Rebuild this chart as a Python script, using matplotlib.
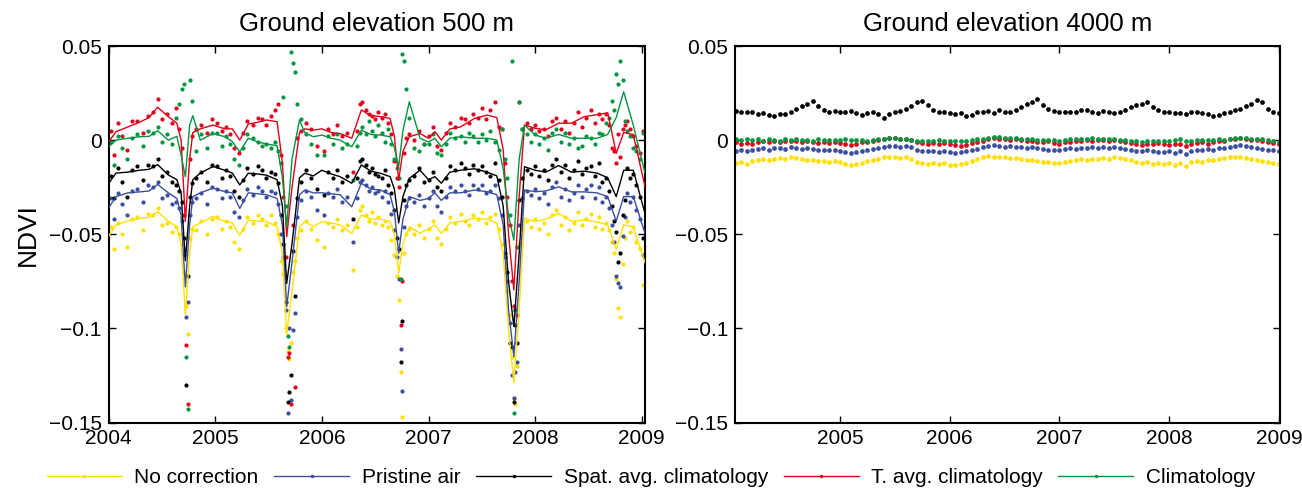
import numpy as np
import matplotlib
matplotlib.use("Agg")
import matplotlib.pyplot as plt
from matplotlib.lines import Line2D

plt.rcParams['font.family'] = ['Liberation Sans', 'DejaVu Sans']

# ---------------- data ----------------
SERIES = ["No correction", "Pristine air", "Spat. avg. climatology", "T. avg. climatology", "Climatology"]
COLORS = ["#FFE000", "#3A4FA0", "#000000", "#E3001B", "#00963F"]

# Left panel: smoothed curves (decimal years)
LINE_T = [2004.00, 2004.07, 2004.18, 2004.29, 2004.38, 2004.46, 2004.56, 2004.64, 2004.68, 2004.72,
          2004.76, 2004.79, 2004.86, 2004.98, 2005.09, 2005.16, 2005.23, 2005.31, 2005.40, 2005.48,
          2005.58, 2005.63, 2005.67, 2005.72, 2005.79, 2005.84, 2005.92, 2006.00, 2006.09, 2006.17,
          2006.28, 2006.37, 2006.46, 2006.55, 2006.64, 2006.68, 2006.72, 2006.76, 2006.82, 2006.92,
          2007.00, 2007.06, 2007.12, 2007.20, 2007.30, 2007.43, 2007.55, 2007.64, 2007.70, 2007.75,
          2007.80, 2007.85, 2007.90, 2008.00, 2008.10, 2008.22, 2008.34, 2008.46, 2008.58, 2008.68,
          2008.76, 2008.83, 2008.92, 2009.03]
LINE_NOCORR = [-0.051, -0.045, -0.043, -0.0415, -0.041, -0.038, -0.043, -0.046, -0.055, -0.093,
               -0.060, -0.046, -0.044, -0.0405, -0.0433, -0.044, -0.0505, -0.0425, -0.043, -0.0433,
               -0.046, -0.060, -0.1034, -0.080, -0.046, -0.0433, -0.046, -0.0433, -0.044, -0.045,
               -0.0495, -0.0398, -0.042, -0.042, -0.0433, -0.050, -0.0708, -0.055, -0.046, -0.0495,
               -0.047, -0.045, -0.0495, -0.044, -0.0433, -0.0415, -0.042, -0.044, -0.060, -0.100,
               -0.129, -0.090, -0.0415, -0.0433, -0.042, -0.0389, -0.043, -0.0425, -0.0435, -0.045,
               -0.058, -0.045, -0.046, -0.065]
LINE_PRISTINE = [-0.036, -0.030, -0.028, -0.0275, -0.027, -0.0235, -0.028, -0.031, -0.040, -0.078,
                 -0.045, -0.030, -0.028, -0.0255, -0.0274, -0.028, -0.0363, -0.028, -0.0285, -0.029,
                 -0.031, -0.045, -0.0885, -0.065, -0.029, -0.0265, -0.028, -0.028, -0.0285, -0.029,
                 -0.0354, -0.0229, -0.026, -0.0265, -0.029, -0.038, -0.0602, -0.042, -0.030, -0.032,
                 -0.031, -0.028, -0.032, -0.028, -0.028, -0.0265, -0.0274, -0.029, -0.045, -0.090,
                 -0.115, -0.075, -0.0265, -0.0274, -0.027, -0.0248, -0.0275, -0.0275, -0.028, -0.030,
                 -0.043, -0.030, -0.030, -0.0495]
LINE_SPAT = [-0.023, -0.0175, -0.017, -0.016, -0.0155, -0.013, -0.0185, -0.021, -0.028, -0.064,
             -0.035, -0.021, -0.0175, -0.014, -0.016, -0.0175, -0.0238, -0.0176, -0.018, -0.0186,
             -0.021, -0.035, -0.0761, -0.055, -0.020, -0.0176, -0.019, -0.016, -0.018, -0.0194,
             -0.0229, -0.0132, -0.0165, -0.0176, -0.0194, -0.026, -0.044, -0.030, -0.0203, -0.016,
             -0.021, -0.0194, -0.0229, -0.017, -0.016, -0.0152, -0.017, -0.019, -0.035, -0.075,
             -0.099, -0.060, -0.0141, -0.016, -0.017, -0.0135, -0.017, -0.0165, -0.0175, -0.020,
             -0.030, -0.016, -0.016, -0.039]
LINE_TAVG = [-0.001, 0.0045, 0.007, 0.0095, 0.012, 0.0175, 0.0125, 0.009, 0.000, -0.043,
             -0.010, 0.004, 0.006, 0.008, 0.006, 0.006, 0.000, 0.0085, 0.0095, 0.0107,
             0.0098, -0.012, -0.0513, -0.025, 0.004, 0.006, 0.0053, 0.006, 0.004, 0.0035,
             0.001, 0.016, 0.013, 0.0125, 0.0115, 0.002, -0.0212, -0.006, 0.0018, 0.0035,
             0.001, 0.0045, 0.000, 0.006, 0.007, 0.0115, 0.0133, 0.012, -0.005, -0.050,
             -0.0796, -0.030, 0.008, 0.0063, 0.0055, 0.009, 0.009, 0.0125, 0.0135, 0.0145,
             -0.007, 0.004, 0.003, -0.0247]
LINE_CLIM = [-0.0035, 0.000, 0.001, 0.0018, 0.002, 0.005, 0.000, 0.002, -0.008, -0.0195,
             0.008, 0.013, 0.000, 0.0035, 0.0018, -0.0008, -0.0062, 0.001, -0.001, -0.002,
             -0.003, -0.020, -0.046, -0.010, 0.0107, 0.004, 0.0018, 0.0027, 0.001, 0.000,
             -0.0035, 0.0053, 0.003, 0.0027, 0.0018, -0.004, -0.0141, 0.005, 0.0204, 0.001,
             -0.001, 0.001, -0.0035, 0.001, 0.0018, 0.001, 0.001, 0.000, -0.015, -0.040,
             -0.0531, -0.010, 0.008, 0.0027, 0.001, 0.003, 0.001, 0.001, 0.001, 0.003,
             0.012, 0.0257, 0.008, -0.0176]

# Left panel: individual retrievals
PT_T = [2004.02, 2004.05, 2004.09, 2004.13, 2004.17, 2004.22, 2004.27, 2004.32, 2004.37, 2004.42, 2004.46, 2004.50, 2004.55,
        2004.59, 2004.63, 2004.66, 2004.69, 2004.71, 2004.73, 2004.74, 2004.76, 2004.78, 2004.82, 2004.87, 2004.92, 2004.97,
        2005.02, 2005.06, 2005.10, 2005.14, 2005.18, 2005.22, 2005.26, 2005.30, 2005.35, 2005.40, 2005.44, 2005.48, 2005.52, 2005.56,
        2005.59, 2005.62, 2005.64, 2005.66, 2005.68, 2005.69, 2005.71, 2005.73, 2005.75, 2005.77, 2005.80, 2005.85, 2005.90, 2005.95,
        2006.02, 2006.06, 2006.10, 2006.14, 2006.19, 2006.24, 2006.29, 2006.33, 2006.36, 2006.38, 2006.41, 2006.44, 2006.47, 2006.50, 2006.53,
        2006.56, 2006.59, 2006.62, 2006.65, 2006.68, 2006.70, 2006.72, 2006.74, 2006.75, 2006.77, 2006.79, 2006.82, 2006.86, 2006.91, 2006.96,
        2007.00, 2007.04, 2007.08, 2007.12, 2007.16, 2007.20, 2007.25, 2007.30, 2007.34, 2007.38, 2007.42, 2007.46, 2007.50, 2007.54, 2007.58,
        2007.62, 2007.66, 2007.69, 2007.72, 2007.74, 2007.76, 2007.78, 2007.80, 2007.81, 2007.83, 2007.85, 2007.88, 2007.92, 2007.96,
        2008.00, 2008.04, 2008.08, 2008.12, 2008.16, 2008.20, 2008.24, 2008.28, 2008.32, 2008.36, 2008.40, 2008.44, 2008.48, 2008.52, 2008.56, 2008.60,
        2008.63, 2008.66, 2008.69, 2008.72, 2008.74, 2008.76, 2008.78, 2008.80, 2008.82, 2008.84, 2008.86, 2008.89, 2008.92, 2008.95, 2008.98, 2009.01]
PT_NOCORR = [-0.046,-0.058,-0.044,-0.050,-0.057,-0.042,-0.041,-0.048,-0.039,-0.040,-0.036,-0.045,-0.044,-0.049,-0.046,-0.050,-0.055,-0.070,-0.088,-0.103,-0.052,-0.047,-0.048,-0.043,-0.050,-0.042,
             -0.041,-0.047,-0.043,-0.046,-0.054,-0.058,-0.047,-0.041,-0.044,-0.040,-0.042,-0.045,-0.040,-0.044,-0.050,-0.064,-0.071,-0.100,-0.112,-0.116,-0.108,-0.070,-0.064,-0.052,-0.048,-0.043,-0.047,-0.053,
             -0.057,-0.044,-0.046,-0.042,-0.048,-0.045,-0.069,-0.046,-0.037,-0.035,-0.040,-0.043,-0.038,-0.044,-0.041,-0.045,-0.043,-0.046,-0.053,-0.061,-0.072,-0.085,-0.123,-0.147,-0.060,-0.050,-0.047,-0.050,-0.045,-0.052,
             -0.047,-0.043,-0.052,-0.055,-0.047,-0.041,-0.044,-0.039,-0.043,-0.045,-0.040,-0.042,-0.038,-0.044,-0.041,-0.039,-0.047,-0.055,-0.068,-0.080,-0.093,-0.115,-0.137,-0.140,-0.120,-0.055,-0.047,-0.043,-0.046,
             -0.042,-0.047,-0.044,-0.050,-0.040,-0.037,-0.045,-0.041,-0.048,-0.044,-0.038,-0.045,-0.042,-0.039,-0.046,-0.041,-0.047,-0.044,-0.048,-0.054,-0.060,-0.074,-0.089,-0.094,-0.066,-0.052,-0.043,-0.049,-0.046,-0.054,-0.058,-0.077]
PT_PRISTINE = [-0.031,-0.042,-0.028,-0.034,-0.040,-0.027,-0.026,-0.033,-0.024,-0.025,-0.022,-0.031,-0.029,-0.034,-0.033,-0.036,-0.043,-0.061,-0.094,-0.086,-0.040,-0.033,-0.031,-0.028,-0.034,-0.025,
               -0.026,-0.031,-0.027,-0.030,-0.038,-0.041,-0.032,-0.026,-0.029,-0.025,-0.027,-0.030,-0.027,-0.028,-0.034,-0.050,-0.062,-0.090,-0.145,-0.100,-0.138,-0.101,-0.092,-0.041,-0.032,-0.027,-0.030,-0.037,
               -0.040,-0.028,-0.030,-0.026,-0.033,-0.030,-0.054,-0.031,-0.022,-0.021,-0.024,-0.027,-0.025,-0.028,-0.027,-0.030,-0.027,-0.033,-0.039,-0.048,-0.062,-0.074,-0.111,-0.133,-0.046,-0.035,-0.031,-0.033,-0.029,-0.035,
               -0.031,-0.027,-0.035,-0.038,-0.030,-0.025,-0.027,-0.024,-0.027,-0.029,-0.024,-0.026,-0.024,-0.028,-0.027,-0.024,-0.031,-0.040,-0.062,-0.075,-0.097,-0.125,-0.137,-0.123,-0.118,-0.045,-0.031,-0.027,-0.029,
               -0.026,-0.031,-0.028,-0.034,-0.025,-0.022,-0.030,-0.026,-0.032,-0.028,-0.024,-0.030,-0.026,-0.024,-0.031,-0.025,-0.033,-0.030,-0.036,-0.045,-0.054,-0.072,-0.076,-0.078,-0.051,-0.041,-0.028,-0.033,-0.030,-0.037,-0.042,-0.061]
PT_SPAT = [-0.019,-0.031,-0.015,-0.022,-0.030,-0.016,-0.014,-0.021,-0.013,-0.014,-0.010,-0.019,-0.017,-0.022,-0.024,-0.027,-0.033,-0.052,-0.130,-0.072,-0.030,-0.023,-0.020,-0.017,-0.022,-0.013,
           -0.014,-0.020,-0.016,-0.019,-0.027,-0.030,-0.021,-0.015,-0.018,-0.014,-0.016,-0.020,-0.017,-0.018,-0.023,-0.040,-0.055,-0.086,-0.139,-0.134,-0.125,-0.059,-0.083,-0.031,-0.022,-0.016,-0.020,-0.026,
           -0.029,-0.017,-0.020,-0.016,-0.022,-0.019,-0.042,-0.020,-0.011,-0.010,-0.013,-0.017,-0.015,-0.018,-0.019,-0.020,-0.016,-0.024,-0.028,-0.037,-0.052,-0.058,-0.118,-0.096,-0.032,-0.024,-0.021,-0.019,-0.015,-0.022,
           -0.021,-0.017,-0.025,-0.027,-0.020,-0.014,-0.016,-0.012,-0.015,-0.018,-0.013,-0.016,-0.014,-0.017,-0.019,-0.012,-0.021,-0.030,-0.060,-0.070,-0.108,-0.110,-0.139,-0.098,-0.108,-0.032,-0.020,-0.016,-0.018,
           -0.014,-0.019,-0.016,-0.021,-0.013,-0.010,-0.017,-0.013,-0.020,-0.016,-0.011,-0.018,-0.015,-0.014,-0.019,-0.012,-0.022,-0.020,-0.027,-0.035,-0.043,-0.049,-0.065,-0.060,-0.040,-0.032,-0.015,-0.020,-0.018,-0.024,-0.030,-0.052]
PT_TAVG = [0.005,-0.008,0.009,0.002,-0.005,0.010,0.010,0.004,0.013,0.015,0.022,0.011,0.014,0.009,0.017,0.006,-0.004,-0.040,-0.109,-0.140,-0.010,0.002,0.006,0.008,0.004,0.011,
           0.009,0.005,0.007,0.003,-0.004,-0.007,0.004,0.010,0.008,0.012,0.011,0.008,0.013,0.016,0.019,-0.008,-0.030,-0.062,-0.115,-0.113,-0.140,-0.045,-0.131,0.001,0.005,0.009,0.006,-0.003,
           -0.006,0.006,0.003,0.008,0.002,0.004,-0.017,0.005,0.019,0.020,0.016,0.014,0.013,0.011,0.015,0.012,0.014,0.009,0.003,-0.011,-0.020,-0.025,-0.098,-0.075,-0.007,0.001,0.003,0.000,0.005,-0.002,
           0.002,0.007,-0.003,-0.005,0.004,0.009,0.007,0.012,0.011,0.009,0.014,0.012,0.017,0.011,0.016,0.020,0.007,0.006,-0.012,-0.030,-0.045,-0.075,-0.088,-0.090,-0.093,0.020,0.006,0.009,0.006,
           0.008,0.005,0.006,0.002,0.010,0.012,0.006,0.010,0.004,0.009,0.015,0.007,0.012,0.016,0.009,0.014,0.011,0.014,0.008,-0.004,-0.006,-0.012,0.003,-0.009,0.006,0.008,0.010,0.006,0.002,-0.003,-0.007,0.005]
PT_CLIM = [-0.001,-0.013,0.002,-0.004,-0.010,0.001,0.003,-0.003,0.005,0.004,0.007,-0.001,0.003,-0.002,0.012,0.019,0.027,0.030,-0.115,-0.143,0.032,0.021,-0.006,0.003,-0.004,0.004,
           0.004,-0.003,0.002,-0.002,-0.010,-0.013,-0.004,0.003,0.001,-0.001,-0.003,-0.002,-0.004,-0.001,-0.006,-0.012,0.023,-0.035,-0.104,-0.110,0.047,0.041,0.036,0.019,0.011,0.003,-0.002,-0.008,
           -0.008,0.002,-0.002,0.003,-0.004,-0.002,-0.021,-0.003,0.004,0.007,0.003,0.010,0.005,0.002,0.008,0.004,-0.001,0.006,-0.002,-0.010,-0.015,-0.020,-0.074,0.046,0.042,0.027,0.012,-0.004,-0.006,-0.002,
           -0.002,0.003,-0.007,-0.008,-0.002,0.004,0.001,0.002,-0.001,0.004,0.002,-0.001,0.003,0.000,0.005,-0.001,-0.005,0.006,-0.010,-0.020,-0.040,0.042,-0.145,-0.090,-0.057,0.020,0.006,0.003,-0.001,
           0.003,-0.002,0.001,-0.005,0.004,0.006,-0.001,0.004,-0.002,0.001,-0.004,-0.003,0.002,0.001,-0.002,0.004,0.003,0.009,0.012,0.021,0.016,0.035,0.030,0.042,0.032,0.010,0.005,0.002,-0.004,-0.006,-0.010,0.004]

# Right panel (4000 m): retrievals every ~0.05 yr from 2004.05 to 2009.00
R_T = np.round(np.linspace(2004.05, 2009.00, 100), 3)
R_NOCORR = [-0.0120,-0.0118,-0.0125,-0.0112,-0.0105,-0.0100,-0.0108,-0.0098,-0.0095,-0.0100,-0.0092,-0.0097,-0.0102,-0.0108,-0.0104,-0.0112,-0.0110,-0.0115,-0.0113,
            -0.0118,-0.0125,-0.0132,-0.0128,-0.0120,-0.0112,-0.0105,-0.0098,-0.0092,-0.0088,-0.0090,-0.0094,-0.0092,-0.0100,-0.0118,-0.0122,-0.0126,-0.0122,-0.0128,-0.0124,
            -0.0130,-0.0134,-0.0126,-0.0120,-0.0110,-0.0100,-0.0090,-0.0084,-0.0088,-0.0092,-0.0090,-0.0095,-0.0093,-0.0100,-0.0104,-0.0108,-0.0112,-0.0118,-0.0115,-0.0120,
            -0.0122,-0.0116,-0.0110,-0.0106,-0.0100,-0.0104,-0.0098,-0.0102,-0.0095,-0.0098,-0.0092,-0.0097,-0.0102,-0.0108,-0.0116,-0.0120,-0.0118,-0.0125,-0.0120,-0.0126,
            -0.0124,-0.0130,-0.0122,-0.0140,-0.0118,-0.0112,-0.0115,-0.0106,-0.0104,-0.0098,-0.0094,-0.0090,-0.0088,-0.0092,-0.0095,-0.0100,-0.0106,-0.0112,-0.0118,-0.0122,
            -0.0128]
R_PRISTINE = [-0.0058,-0.0055,-0.0060,-0.0052,-0.0048,-0.0044,-0.0050,-0.0042,-0.0040,-0.0045,-0.0038,-0.0042,-0.0046,-0.0040,-0.0048,-0.0052,-0.0050,-0.0055,-0.0053,
              -0.0058,-0.0062,-0.0068,-0.0064,-0.0056,-0.0050,-0.0045,-0.0040,-0.0036,-0.0032,-0.0030,-0.0034,-0.0033,-0.0038,-0.0052,-0.0058,-0.0060,-0.0056,-0.0062,-0.0060,
              -0.0064,-0.0068,-0.0062,-0.0060,-0.0052,-0.0045,-0.0038,-0.0030,-0.0026,-0.0032,-0.0035,-0.0030,-0.0036,-0.0034,-0.0040,-0.0038,-0.0044,-0.0048,-0.0052,-0.0050,
              -0.0054,-0.0048,-0.0044,-0.0046,-0.0040,-0.0042,-0.0038,-0.0044,-0.0036,-0.0040,-0.0034,-0.0040,-0.0045,-0.0050,-0.0056,-0.0060,-0.0054,-0.0058,-0.0062,-0.0064,
              -0.0060,-0.0066,-0.0058,-0.0072,-0.0056,-0.0052,-0.0055,-0.0048,-0.0050,-0.0044,-0.0040,-0.0036,-0.0030,-0.0028,-0.0032,-0.0035,-0.0040,-0.0045,-0.0050,-0.0055,
              -0.0060]
R_SPAT = [0.0155,0.0150,0.0148,0.0152,0.0140,0.0145,0.0132,0.0128,0.0140,0.0138,0.0150,0.0165,0.0180,0.0192,0.0208,0.0180,0.0158,0.0152,0.0155,
          0.0150,0.0148,0.0155,0.0143,0.0135,0.0145,0.0148,0.0140,0.0120,0.0140,0.0148,0.0155,0.0165,0.0180,0.0200,0.0210,0.0185,0.0160,0.0150,0.0148,
          0.0145,0.0140,0.0142,0.0128,0.0135,0.0148,0.0150,0.0155,0.0145,0.0158,0.0150,0.0152,0.0160,0.0175,0.0190,0.0205,0.0220,0.0185,0.0165,0.0155,
          0.0150,0.0152,0.0148,0.0152,0.0158,0.0162,0.0150,0.0142,0.0155,0.0150,0.0145,0.0152,0.0160,0.0175,0.0185,0.0192,0.0205,0.0175,0.0158,0.0150,
          0.0148,0.0142,0.0145,0.0138,0.0148,0.0150,0.0145,0.0140,0.0130,0.0135,0.0142,0.0150,0.0158,0.0165,0.0180,0.0192,0.0215,0.0200,0.0165,0.0150,
          0.0145]
R_TAVG = [-0.0012,-0.0018,-0.0015,-0.0022,-0.0010,-0.0006,-0.0012,-0.0004,-0.0008,-0.0002,-0.0006,-0.0003,-0.0009,-0.0005,-0.0011,-0.0014,-0.0010,-0.0016,-0.0012,
          -0.0015,-0.0020,-0.0024,-0.0018,-0.0012,-0.0008,-0.0004,0.0000,0.0006,0.0012,0.0010,0.0008,0.0004,0.0003,-0.0010,-0.0015,-0.0018,-0.0014,-0.0020,-0.0016,
          -0.0020,-0.0025,-0.0030,-0.0024,-0.0016,-0.0010,-0.0004,0.0006,0.0010,0.0008,0.0004,0.0002,0.0005,0.0000,-0.0004,-0.0002,-0.0008,-0.0012,-0.0006,-0.0014,
          -0.0018,-0.0012,-0.0008,-0.0004,-0.0002,0.0000,-0.0004,-0.0001,0.0002,-0.0003,0.0000,-0.0006,-0.0010,-0.0014,-0.0020,-0.0024,-0.0018,-0.0022,-0.0015,-0.0020,
          -0.0025,-0.0018,-0.0022,-0.0030,-0.0020,-0.0016,-0.0012,-0.0018,-0.0010,-0.0006,-0.0002,0.0004,0.0008,0.0010,0.0006,0.0003,0.0000,-0.0006,-0.0010,-0.0014,
          -0.0020]
R_CLIM = [0.0005,0.0002,0.0008,0.0000,0.0004,-0.0003,0.0006,0.0002,-0.0002,0.0005,0.0001,0.0006,0.0000,0.0003,-0.0002,0.0004,0.0001,0.0003,-0.0001,
          0.0002,0.0005,-0.0001,0.0003,0.0000,-0.0004,0.0002,0.0006,0.0004,0.0010,0.0012,0.0008,0.0005,0.0003,-0.0003,-0.0006,-0.0002,-0.0005,0.0000,-0.0004,
          -0.0006,-0.0002,-0.0005,-0.0003,0.0002,0.0004,0.0008,0.0012,0.0018,0.0015,0.0013,0.0010,0.0009,0.0006,0.0004,0.0006,0.0002,0.0003,0.0000,0.0002,
          -0.0002,0.0003,0.0006,0.0004,0.0008,0.0005,0.0009,0.0006,0.0004,0.0007,0.0005,0.0002,0.0000,-0.0003,-0.0006,-0.0008,-0.0004,-0.0007,-0.0003,-0.0005,
          -0.0002,0.0001,0.0004,-0.0006,-0.0002,0.0000,0.0003,-0.0001,0.0002,0.0004,0.0001,0.0006,0.0009,0.0012,0.0010,0.0008,0.0006,0.0004,0.0000,-0.0003,
          -0.0008]

YTICKS = [0.05, 0, -0.05, -0.1, -0.15]
YTICKLABELS = ["0.05", "0", "\u22120.05", "\u22120.1", "\u22120.15"]
XTICKS_LEFT = [2004, 2005, 2006, 2007, 2008, 2009]
XTICKS_RIGHT = [2005, 2006, 2007, 2008, 2009]

# ---------------- figure ----------------
fig = plt.figure(figsize=(13.02, 4.91), dpi=100)
axL = fig.add_axes([0.0834, 0.1395, 0.4120, 0.7668])
axR = fig.add_axes([0.5645, 0.1395, 0.4186, 0.7668])

lines_left = [LINE_NOCORR, LINE_PRISTINE, LINE_SPAT, LINE_TAVG, LINE_CLIM]
pts_left = [PT_NOCORR, PT_PRISTINE, PT_SPAT, PT_TAVG, PT_CLIM]
pts_right = [R_NOCORR, R_PRISTINE, R_SPAT, R_TAVG, R_CLIM]

for vals, pts, c in zip(lines_left, pts_left, COLORS):
    axL.plot(PT_T, pts, linestyle='none', marker='o', markersize=3.0,
             markeredgewidth=0, color=c, zorder=2)
    axL.plot(LINE_T, vals, color=c, lw=1.0, zorder=3)

for pts, c in zip(pts_right, COLORS):
    axR.plot(R_T, pts, linestyle='none', marker='o', markersize=3.4,
             markeredgewidth=0, color=c, zorder=2)

for ax, xl, xt, title in [(axL, (2004.0, 2009.03), XTICKS_LEFT, "Ground elevation 500 m"),
                          (axR, (2004.043, 2009.01), XTICKS_RIGHT, "Ground elevation 4000 m")]:
    ax.set_xlim(*xl)
    ax.set_ylim(-0.15, 0.05)
    ax.set_xticks(xt)
    ax.set_xticklabels([str(t) for t in xt])
    ax.set_yticks(YTICKS)
    ax.set_yticklabels(YTICKLABELS)
    ax.tick_params(direction='in', length=5, width=1.0, top=True, right=True,
                   labelsize=15, pad=5)
    for s in ax.spines.values():
        s.set_linewidth(1.5)
    ax.set_title(title, fontsize=18.5, pad=11)

axL.set_ylabel("NDVI", fontsize=19, labelpad=6)

handles = [Line2D([0], [0], color=c, lw=1.0, marker='o', markersize=2.5,
                  markeredgewidth=0) for c in COLORS]
fig.legend(handles, SERIES, loc='lower center', bbox_to_anchor=(0.5, -0.03), ncol=5,
           frameon=False, fontsize=15, handlelength=3.6, handletextpad=0.6,
           columnspacing=0.75, numpoints=1)

fig.savefig("out.png", dpi=100)
